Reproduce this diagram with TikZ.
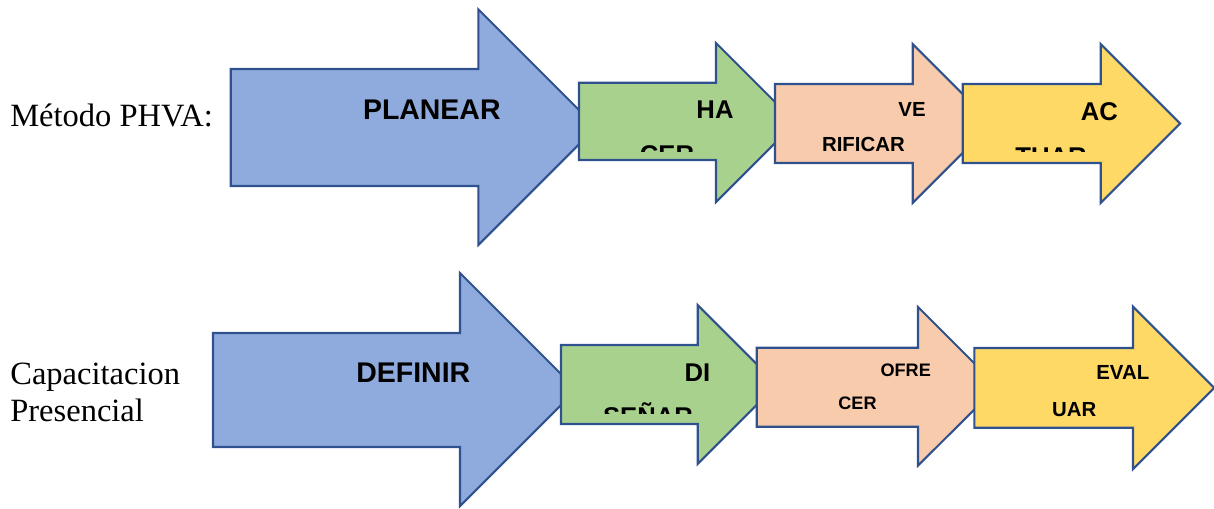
\documentclass[tikz,border=0pt]{standalone}
\usepackage{fontspec}
\setmainfont{Liberation Serif}
\setsansfont{Liberation Sans}
\usepackage{tikz}

\definecolor{azul}{HTML}{8FAADC}
\definecolor{verde}{HTML}{A9D18E}
\definecolor{salmon}{HTML}{F8CBAD}
\definecolor{amarillo}{HTML}{FFD966}
\definecolor{borde}{HTML}{2F528F}

\tikzset{
  flecha/.style={draw=borde, line width=1.2pt, line join=miter},
  titulo/.style={font=\fontsize{18.5}{20.8}\selectfont, anchor=base west, inner sep=0pt, align=left},
  grande/.style={font=\sffamily\bfseries\fontsize{16.2}{18}\selectfont, anchor=base, inner sep=0pt},
  medio/.style={font=\sffamily\bfseries\fontsize{14.6}{17}\selectfont, anchor=base, inner sep=0pt},
  chico/.style={font=\sffamily\bfseries\fontsize{11.6}{14}\selectfont, anchor=base, inner sep=0pt},
  mini/.style={font=\sffamily\bfseries\fontsize{10.3}{12}\selectfont, anchor=base, inner sep=0pt}
}

\begin{document}
\begin{tikzpicture}[x=0.02cm, y=-0.02cm]
  \useasboundingbox (0,0) rectangle (1214,508);

  % Metodo PHVA
  \node[titulo] (phva) at (10,126) {Método PHVA:};

  \filldraw[flecha, fill=azul] (230.7,69) -- (478.3,69) -- (478.3,9.3) -- (596.2,127.2)
    -- (478.3,245) -- (478.3,186) -- (230.7,186) -- cycle;
  \filldraw[flecha, fill=verde] (579,82.7) -- (716,82.7) -- (716,43) -- (795.5,122.5)
    -- (716,202) -- (716,160) -- (579,160) -- cycle;
  \filldraw[flecha, fill=salmon] (775,84) -- (912.7,84) -- (912.7,44) -- (992.2,123.5)
    -- (912.7,203) -- (912.7,163) -- (775,163) -- cycle;
  \filldraw[flecha, fill=amarillo] (962.7,84) -- (1100.7,84) -- (1100.7,44) -- (1180.2,123.5)
    -- (1100.7,203) -- (1100.7,163) -- (962.7,163) -- cycle;

  \node[grande] (planear) at (431.8,119.3) {PLANEAR};
  \node[medio] (ha) at (715,118.3) {HA};
  \begin{scope}
    \clip (600,90) rectangle (720,151);
    \node[medio] (cer) at (667,163.3) {CER};
  \end{scope}
  \node[chico] (ve) at (912,116) {VE};
  \node[chico] (rificar) at (863.4,151.7) {RIFICAR};
  \node[medio] (ac) at (1099.4,120) {AC};
  \begin{scope}
    \clip (990,90) rectangle (1110,151.7);
    \node[medio] (tuar) at (1051,165) {TUAR};
  \end{scope}

  % Capacitacion presencial
  \node[titulo] (capac) at (10,421) {Capacitacion\\Presencial};

  \filldraw[flecha, fill=azul] (213,333) -- (460,333) -- (460,273) -- (576.5,389.5)
    -- (460,506) -- (460,447) -- (213,447) -- cycle;
  \filldraw[flecha, fill=verde] (561,345) -- (697.7,345) -- (697.7,305) -- (777.2,384.5)
    -- (697.7,464) -- (697.7,424) -- (561,424) -- cycle;
  \filldraw[flecha, fill=salmon] (756.7,347.7) -- (918,347.7) -- (918,307) -- (997.4,386.4)
    -- (918,465.7) -- (918,426.7) -- (756.7,426.7) -- cycle;
  \filldraw[flecha, fill=amarillo] (974.3,348) -- (1133,348) -- (1133,306.7) -- (1214.2,387.9)
    -- (1133,469) -- (1133,427.7) -- (974.3,427.7) -- cycle;

  \node[grande] (definir) at (413.3,382.3) {DEFINIR};
  \node[medio] (di) at (697.5,381.7) {DI};
  \begin{scope}
    \clip (580,350) rectangle (720,413.3);
    \node[medio] (senar) at (648,425.3) {SEÑAR};
  \end{scope}
  \node[mini] (ofre) at (905.7,376) {OFRE};
  \node[mini] (cerb) at (857.5,409.3) {CER};
  \node[chico] (eval) at (1122.8,379) {EVAL};
  \node[chico] (uar) at (1074.3,416) {UAR};
\end{tikzpicture}
\end{document}
